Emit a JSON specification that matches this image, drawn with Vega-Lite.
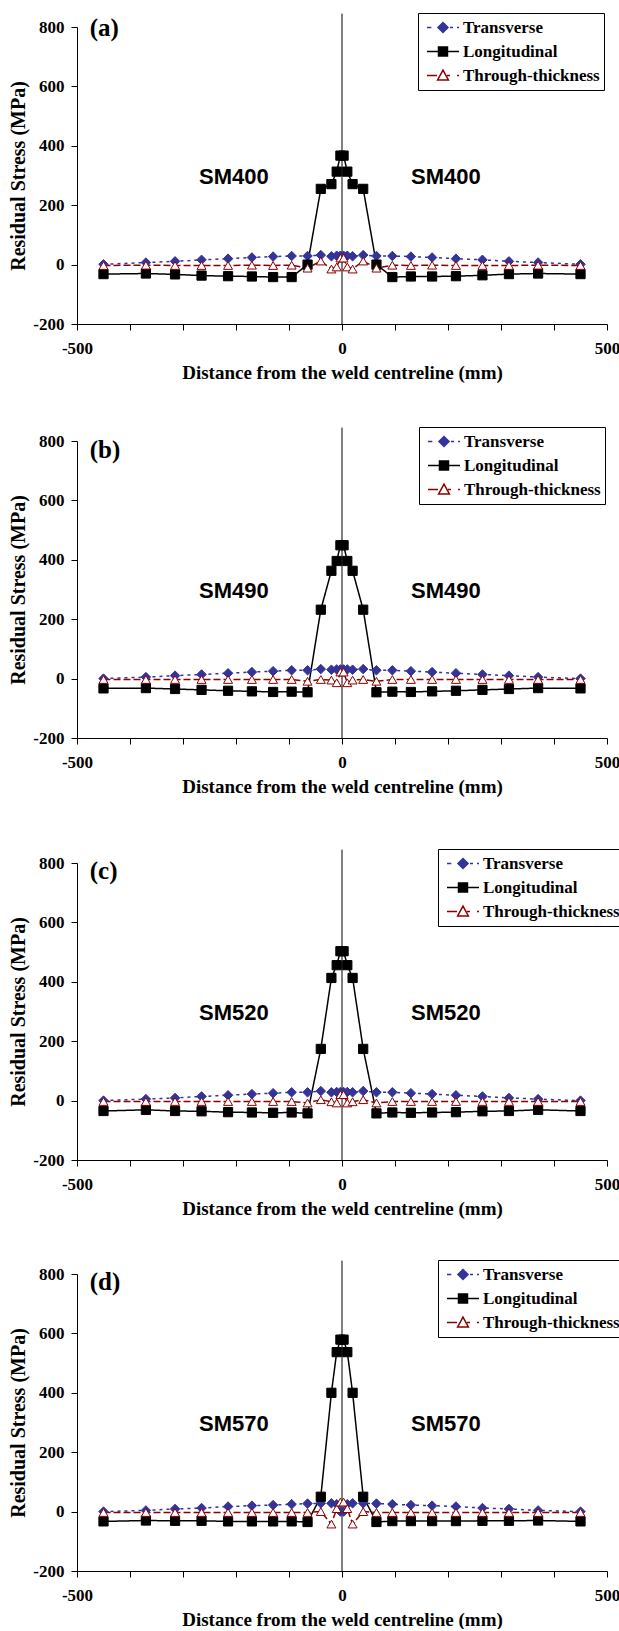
{
  "$schema": "https://vega.github.io/schema/vega-lite/v6.json",
  "background": "white",
  "padding": {"left": 8, "top": 12, "right": 0, "bottom": 0},
  "bounds": "flush",
  "spacing": 117,
  "datasets": {
    "a": [
      {"series":"Transverse","x":-450,"y":1},{"series":"Transverse","x":-370,"y":7},{"series":"Transverse","x":-315,"y":11},{"series":"Transverse","x":-265,"y":16},{"series":"Transverse","x":-215,"y":20},{"series":"Transverse","x":-170,"y":24},{"series":"Transverse","x":-130,"y":27},{"series":"Transverse","x":-95,"y":29},{"series":"Transverse","x":-65,"y":29},{"series":"Transverse","x":-40,"y":32},{"series":"Transverse","x":-20,"y":28},{"series":"Transverse","x":-10,"y":30},{"series":"Transverse","x":-3,"y":30},{"series":"Transverse","x":3,"y":30},{"series":"Transverse","x":10,"y":30},{"series":"Transverse","x":20,"y":28},{"series":"Transverse","x":40,"y":32},{"series":"Transverse","x":65,"y":29},{"series":"Transverse","x":95,"y":29},{"series":"Transverse","x":130,"y":27},{"series":"Transverse","x":170,"y":24},{"series":"Transverse","x":215,"y":20},{"series":"Transverse","x":265,"y":16},{"series":"Transverse","x":315,"y":11},{"series":"Transverse","x":370,"y":7},{"series":"Transverse","x":450,"y":1},
      {"series":"Longitudinal","x":-450,"y":-32},{"series":"Longitudinal","x":-370,"y":-30},{"series":"Longitudinal","x":-315,"y":-33},{"series":"Longitudinal","x":-265,"y":-37},{"series":"Longitudinal","x":-215,"y":-39},{"series":"Longitudinal","x":-170,"y":-40},{"series":"Longitudinal","x":-130,"y":-42},{"series":"Longitudinal","x":-95,"y":-42},{"series":"Longitudinal","x":-65,"y":0},{"series":"Longitudinal","x":-40,"y":255},{"series":"Longitudinal","x":-20,"y":271},{"series":"Longitudinal","x":-10,"y":313},{"series":"Longitudinal","x":-3,"y":367},{"series":"Longitudinal","x":3,"y":367},{"series":"Longitudinal","x":10,"y":313},{"series":"Longitudinal","x":20,"y":271},{"series":"Longitudinal","x":40,"y":255},{"series":"Longitudinal","x":65,"y":0},{"series":"Longitudinal","x":95,"y":-42},{"series":"Longitudinal","x":130,"y":-40},{"series":"Longitudinal","x":170,"y":-40},{"series":"Longitudinal","x":215,"y":-39},{"series":"Longitudinal","x":265,"y":-36},{"series":"Longitudinal","x":315,"y":-32},{"series":"Longitudinal","x":370,"y":-30},{"series":"Longitudinal","x":450,"y":-32},
      {"series":"Through-thickness","x":-450,"y":-3},{"series":"Through-thickness","x":-370,"y":-2},{"series":"Through-thickness","x":-315,"y":-3},{"series":"Through-thickness","x":-265,"y":-3},{"series":"Through-thickness","x":-215,"y":-3},{"series":"Through-thickness","x":-170,"y":-2},{"series":"Through-thickness","x":-130,"y":-3},{"series":"Through-thickness","x":-95,"y":-2},{"series":"Through-thickness","x":-65,"y":-12},{"series":"Through-thickness","x":-40,"y":12},{"series":"Through-thickness","x":-20,"y":-15},{"series":"Through-thickness","x":-10,"y":-8},{"series":"Through-thickness","x":-3,"y":22},{"series":"Through-thickness","x":3,"y":22},{"series":"Through-thickness","x":10,"y":-8},{"series":"Through-thickness","x":20,"y":-15},{"series":"Through-thickness","x":40,"y":12},{"series":"Through-thickness","x":65,"y":-12},{"series":"Through-thickness","x":95,"y":-2},{"series":"Through-thickness","x":130,"y":-3},{"series":"Through-thickness","x":170,"y":-2},{"series":"Through-thickness","x":215,"y":-3},{"series":"Through-thickness","x":265,"y":-3},{"series":"Through-thickness","x":315,"y":-3},{"series":"Through-thickness","x":370,"y":-2},{"series":"Through-thickness","x":450,"y":-3}
    ],
    "b": [
      {"series":"Transverse","x":-450,"y":0},{"series":"Transverse","x":-370,"y":5},{"series":"Transverse","x":-315,"y":10},{"series":"Transverse","x":-265,"y":14},{"series":"Transverse","x":-215,"y":18},{"series":"Transverse","x":-170,"y":22},{"series":"Transverse","x":-130,"y":25},{"series":"Transverse","x":-95,"y":28},{"series":"Transverse","x":-65,"y":28},{"series":"Transverse","x":-40,"y":32},{"series":"Transverse","x":-20,"y":30},{"series":"Transverse","x":-10,"y":31},{"series":"Transverse","x":-3,"y":31},{"series":"Transverse","x":3,"y":31},{"series":"Transverse","x":10,"y":31},{"series":"Transverse","x":20,"y":30},{"series":"Transverse","x":40,"y":32},{"series":"Transverse","x":65,"y":28},{"series":"Transverse","x":95,"y":28},{"series":"Transverse","x":130,"y":25},{"series":"Transverse","x":170,"y":22},{"series":"Transverse","x":215,"y":18},{"series":"Transverse","x":265,"y":14},{"series":"Transverse","x":315,"y":10},{"series":"Transverse","x":370,"y":5},{"series":"Transverse","x":450,"y":0},
      {"series":"Longitudinal","x":-450,"y":-33},{"series":"Longitudinal","x":-370,"y":-32},{"series":"Longitudinal","x":-315,"y":-35},{"series":"Longitudinal","x":-265,"y":-38},{"series":"Longitudinal","x":-215,"y":-41},{"series":"Longitudinal","x":-170,"y":-43},{"series":"Longitudinal","x":-130,"y":-45},{"series":"Longitudinal","x":-95,"y":-44},{"series":"Longitudinal","x":-65,"y":-46},{"series":"Longitudinal","x":-40,"y":232},{"series":"Longitudinal","x":-20,"y":363},{"series":"Longitudinal","x":-10,"y":396},{"series":"Longitudinal","x":-3,"y":449},{"series":"Longitudinal","x":3,"y":449},{"series":"Longitudinal","x":10,"y":396},{"series":"Longitudinal","x":20,"y":363},{"series":"Longitudinal","x":40,"y":232},{"series":"Longitudinal","x":65,"y":-46},{"series":"Longitudinal","x":95,"y":-44},{"series":"Longitudinal","x":130,"y":-45},{"series":"Longitudinal","x":170,"y":-43},{"series":"Longitudinal","x":215,"y":-41},{"series":"Longitudinal","x":265,"y":-38},{"series":"Longitudinal","x":315,"y":-35},{"series":"Longitudinal","x":370,"y":-32},{"series":"Longitudinal","x":450,"y":-33},
      {"series":"Through-thickness","x":-450,"y":-3},{"series":"Through-thickness","x":-370,"y":-3},{"series":"Through-thickness","x":-315,"y":-3},{"series":"Through-thickness","x":-265,"y":-3},{"series":"Through-thickness","x":-215,"y":-3},{"series":"Through-thickness","x":-170,"y":-3},{"series":"Through-thickness","x":-130,"y":-3},{"series":"Through-thickness","x":-95,"y":-3},{"series":"Through-thickness","x":-65,"y":-9},{"series":"Through-thickness","x":-40,"y":-3},{"series":"Through-thickness","x":-20,"y":-5},{"series":"Through-thickness","x":-10,"y":-14},{"series":"Through-thickness","x":-3,"y":22},{"series":"Through-thickness","x":3,"y":22},{"series":"Through-thickness","x":10,"y":-14},{"series":"Through-thickness","x":20,"y":-5},{"series":"Through-thickness","x":40,"y":-3},{"series":"Through-thickness","x":65,"y":-9},{"series":"Through-thickness","x":95,"y":-3},{"series":"Through-thickness","x":130,"y":-3},{"series":"Through-thickness","x":170,"y":-3},{"series":"Through-thickness","x":215,"y":-3},{"series":"Through-thickness","x":265,"y":-3},{"series":"Through-thickness","x":315,"y":-3},{"series":"Through-thickness","x":370,"y":-3},{"series":"Through-thickness","x":450,"y":-3}
    ],
    "c": [
      {"series":"Transverse","x":-450,"y":0},{"series":"Transverse","x":-370,"y":5},{"series":"Transverse","x":-315,"y":9},{"series":"Transverse","x":-265,"y":14},{"series":"Transverse","x":-215,"y":18},{"series":"Transverse","x":-170,"y":22},{"series":"Transverse","x":-130,"y":25},{"series":"Transverse","x":-95,"y":28},{"series":"Transverse","x":-65,"y":28},{"series":"Transverse","x":-40,"y":32},{"series":"Transverse","x":-20,"y":28},{"series":"Transverse","x":-10,"y":29},{"series":"Transverse","x":-3,"y":29},{"series":"Transverse","x":3,"y":29},{"series":"Transverse","x":10,"y":29},{"series":"Transverse","x":20,"y":28},{"series":"Transverse","x":40,"y":32},{"series":"Transverse","x":65,"y":28},{"series":"Transverse","x":95,"y":28},{"series":"Transverse","x":130,"y":25},{"series":"Transverse","x":170,"y":22},{"series":"Transverse","x":215,"y":18},{"series":"Transverse","x":265,"y":14},{"series":"Transverse","x":315,"y":9},{"series":"Transverse","x":370,"y":5},{"series":"Transverse","x":450,"y":0},
      {"series":"Longitudinal","x":-450,"y":-35},{"series":"Longitudinal","x":-370,"y":-31},{"series":"Longitudinal","x":-315,"y":-35},{"series":"Longitudinal","x":-265,"y":-36},{"series":"Longitudinal","x":-215,"y":-39},{"series":"Longitudinal","x":-170,"y":-40},{"series":"Longitudinal","x":-130,"y":-41},{"series":"Longitudinal","x":-95,"y":-40},{"series":"Longitudinal","x":-65,"y":-43},{"series":"Longitudinal","x":-40,"y":174},{"series":"Longitudinal","x":-20,"y":413},{"series":"Longitudinal","x":-10,"y":456},{"series":"Longitudinal","x":-3,"y":503},{"series":"Longitudinal","x":3,"y":503},{"series":"Longitudinal","x":10,"y":456},{"series":"Longitudinal","x":20,"y":413},{"series":"Longitudinal","x":40,"y":174},{"series":"Longitudinal","x":65,"y":-43},{"series":"Longitudinal","x":95,"y":-40},{"series":"Longitudinal","x":130,"y":-41},{"series":"Longitudinal","x":170,"y":-40},{"series":"Longitudinal","x":215,"y":-39},{"series":"Longitudinal","x":265,"y":-36},{"series":"Longitudinal","x":315,"y":-35},{"series":"Longitudinal","x":370,"y":-31},{"series":"Longitudinal","x":450,"y":-35},
      {"series":"Through-thickness","x":-450,"y":-3},{"series":"Through-thickness","x":-370,"y":-3},{"series":"Through-thickness","x":-315,"y":-3},{"series":"Through-thickness","x":-265,"y":-3},{"series":"Through-thickness","x":-215,"y":-3},{"series":"Through-thickness","x":-170,"y":-3},{"series":"Through-thickness","x":-130,"y":-3},{"series":"Through-thickness","x":-95,"y":-3},{"series":"Through-thickness","x":-65,"y":-8},{"series":"Through-thickness","x":-40,"y":3},{"series":"Through-thickness","x":-20,"y":-4},{"series":"Through-thickness","x":-10,"y":-8},{"series":"Through-thickness","x":-3,"y":20},{"series":"Through-thickness","x":3,"y":20},{"series":"Through-thickness","x":10,"y":-8},{"series":"Through-thickness","x":20,"y":-4},{"series":"Through-thickness","x":40,"y":3},{"series":"Through-thickness","x":65,"y":-8},{"series":"Through-thickness","x":95,"y":-3},{"series":"Through-thickness","x":130,"y":-3},{"series":"Through-thickness","x":170,"y":-3},{"series":"Through-thickness","x":215,"y":-3},{"series":"Through-thickness","x":265,"y":-3},{"series":"Through-thickness","x":315,"y":-3},{"series":"Through-thickness","x":370,"y":-3},{"series":"Through-thickness","x":450,"y":-3}
    ],
    "d": [
      {"series":"Transverse","x":-450,"y":0},{"series":"Transverse","x":-370,"y":4},{"series":"Transverse","x":-315,"y":9},{"series":"Transverse","x":-265,"y":12},{"series":"Transverse","x":-215,"y":17},{"series":"Transverse","x":-170,"y":20},{"series":"Transverse","x":-130,"y":22},{"series":"Transverse","x":-95,"y":25},{"series":"Transverse","x":-65,"y":27},{"series":"Transverse","x":-40,"y":28},{"series":"Transverse","x":-20,"y":28},{"series":"Transverse","x":-10,"y":25},{"series":"Transverse","x":-3,"y":0},{"series":"Transverse","x":3,"y":0},{"series":"Transverse","x":10,"y":25},{"series":"Transverse","x":20,"y":28},{"series":"Transverse","x":40,"y":28},{"series":"Transverse","x":65,"y":27},{"series":"Transverse","x":95,"y":25},{"series":"Transverse","x":130,"y":22},{"series":"Transverse","x":170,"y":20},{"series":"Transverse","x":215,"y":17},{"series":"Transverse","x":265,"y":12},{"series":"Transverse","x":315,"y":9},{"series":"Transverse","x":370,"y":4},{"series":"Transverse","x":450,"y":0},
      {"series":"Longitudinal","x":-450,"y":-33},{"series":"Longitudinal","x":-370,"y":-30},{"series":"Longitudinal","x":-315,"y":-31},{"series":"Longitudinal","x":-265,"y":-31},{"series":"Longitudinal","x":-215,"y":-33},{"series":"Longitudinal","x":-170,"y":-33},{"series":"Longitudinal","x":-130,"y":-33},{"series":"Longitudinal","x":-95,"y":-33},{"series":"Longitudinal","x":-65,"y":-35},{"series":"Longitudinal","x":-40,"y":50},{"series":"Longitudinal","x":-20,"y":400},{"series":"Longitudinal","x":-10,"y":537},{"series":"Longitudinal","x":-3,"y":579},{"series":"Longitudinal","x":3,"y":579},{"series":"Longitudinal","x":10,"y":537},{"series":"Longitudinal","x":20,"y":400},{"series":"Longitudinal","x":40,"y":50},{"series":"Longitudinal","x":65,"y":-35},{"series":"Longitudinal","x":95,"y":-32},{"series":"Longitudinal","x":130,"y":-32},{"series":"Longitudinal","x":170,"y":-32},{"series":"Longitudinal","x":215,"y":-32},{"series":"Longitudinal","x":265,"y":-31},{"series":"Longitudinal","x":315,"y":-31},{"series":"Longitudinal","x":370,"y":-30},{"series":"Longitudinal","x":450,"y":-33},
      {"series":"Through-thickness","x":-450,"y":-3},{"series":"Through-thickness","x":-370,"y":-3},{"series":"Through-thickness","x":-315,"y":-3},{"series":"Through-thickness","x":-265,"y":-3},{"series":"Through-thickness","x":-215,"y":-3},{"series":"Through-thickness","x":-170,"y":-3},{"series":"Through-thickness","x":-130,"y":-3},{"series":"Through-thickness","x":-95,"y":-3},{"series":"Through-thickness","x":-65,"y":-3},{"series":"Through-thickness","x":-40,"y":0},{"series":"Through-thickness","x":-20,"y":-42},{"series":"Through-thickness","x":-10,"y":10},{"series":"Through-thickness","x":-3,"y":32},{"series":"Through-thickness","x":3,"y":32},{"series":"Through-thickness","x":10,"y":10},{"series":"Through-thickness","x":20,"y":-42},{"series":"Through-thickness","x":40,"y":0},{"series":"Through-thickness","x":65,"y":-3},{"series":"Through-thickness","x":95,"y":-3},{"series":"Through-thickness","x":130,"y":-3},{"series":"Through-thickness","x":170,"y":-3},{"series":"Through-thickness","x":215,"y":-3},{"series":"Through-thickness","x":265,"y":-3},{"series":"Through-thickness","x":315,"y":-3},{"series":"Through-thickness","x":370,"y":-3},{"series":"Through-thickness","x":450,"y":-3}
    ]
  },
  "vconcat": [
    {
      "width": 530, "height": 297,
      "layer": [
        {"data": {"values": [{}]}, "mark": {"type": "rule", "color": "black", "strokeWidth": 1},
         "encoding": {"x": {"datum": 0, "type": "quantitative"}, "y": {"datum": -200, "type": "quantitative"}, "y2": {"datum": 845}}},
        {"data": {"name": "a"}, "mark": {"type": "line", "strokeWidth": 1.5},
         "encoding": {
           "x": {"field": "x", "type": "quantitative", "scale": {"domain": [-500, 500], "nice": false, "zero": false},
                 "axis": {"title": "Distance from the weld centreline (mm)", "values": [-500,-450,-400,-350,-300,-250,-200,-150,-100,-50,0,50,100,150,200,250,300,350,400,450,500], "labelExpr": "datum.value % 250 === 0 ? '' + datum.value : ''", "labelFlush": false, "labelOverlap": false}},
           "y": {"field": "y", "type": "quantitative", "scale": {"domain": [-200, 800], "nice": false, "zero": false},
                 "axis": {"title": "Residual Stress (MPa)", "values": [-200,-150,-100,-50,0,50,100,150,200,250,300,350,400,450,500,550,600,650,700,750,800], "labelExpr": "datum.value % 200 === 0 ? '' + datum.value : ''", "labelOverlap": false, "labelFlush": false}},
           "stroke": {"field": "series", "type": "nominal", "legend": null, "scale": {"domain": ["Transverse", "Longitudinal", "Through-thickness"], "range": ["#333399", "#000000", "#8B0000"]}},
           "strokeDash": {"field": "series", "type": "nominal", "legend": null, "scale": {"domain": ["Transverse", "Longitudinal", "Through-thickness"], "range": [[3, 4], [1, 0], [7, 3]]}}
         }},
        {"data": {"name": "a"}, "mark": {"type": "point", "opacity": 1, "strokeWidth": 1},
         "encoding": {
           "x": {"field": "x", "type": "quantitative"}, "y": {"field": "y", "type": "quantitative"},
           "shape": {"field": "series", "type": "nominal", "legend": null, "scale": {"domain": ["Transverse", "Longitudinal", "Through-thickness"], "range": ["diamond", "square", "triangle-up"]}},
           "size": {"field": "series", "type": "nominal", "legend": null, "scale": {"domain": ["Transverse", "Longitudinal", "Through-thickness"], "range": [90, 80, 70]}},
           "stroke": {"field": "series", "type": "nominal", "legend": null, "scale": {"domain": ["Transverse", "Longitudinal", "Through-thickness"], "range": ["#333399", "#000000", "#8B0000"]}},
           "fill": {"field": "series", "type": "nominal", "legend": null, "scale": {"domain": ["Transverse", "Longitudinal", "Through-thickness"], "range": ["#333399", "#000000", "#ffffff"]}}
         }},
        {"data": {"name": "a"}, "transform": [{"filter": "datum.x > 99999"}], "mark": {"type": "point", "opacity": 1, "strokeWidth": 1.5, "filled": true},
         "encoding": {
           "x": {"field": "x", "type": "quantitative"}, "y": {"field": "y", "type": "quantitative"},
           "shape": {"field": "series", "type": "nominal", "legend": {"orient": "none", "legendX": 341, "legendY": -14, "title": null}, "scale": {"domain": ["Transverse", "Longitudinal", "Through-thickness"], "range": ["M-0.778,0H-0.539M0.111,-0.28L0.391,0L0.111,0.28L-0.169,0ZM0.5,0H0.667M0.889,0H1", "M-0.778,0H1M-0.139,-0.25H0.361V0.25H-0.139Z", "M-0.778,0H-0.222M0.111,-0.3L0.41,0.25H-0.188ZM0.333,0H0.5M0.889,0H1"]}},
           "stroke": {"field": "series", "type": "nominal", "legend": {"orient": "none", "legendX": 341, "legendY": -14, "title": null}, "scale": {"domain": ["Transverse", "Longitudinal", "Through-thickness"], "range": ["#333399", "#000000", "#8B0000"]}},
           "fill": {"field": "series", "type": "nominal", "legend": {"orient": "none", "legendX": 341, "legendY": -14, "title": null}, "scale": {"domain": ["Transverse", "Longitudinal", "Through-thickness"], "range": ["#333399", "#000000", "#ffffff"]}}
         }},
        {"data": {"values": [{}]}, "mark": {"type": "text", "font": "Liberation Serif", "fontWeight": "bold", "fontSize": 25, "align": "left", "baseline": "middle"},
         "encoding": {"x": {"datum": -476, "type": "quantitative"}, "y": {"datum": 796, "type": "quantitative"}, "text": {"value": "(a)"}}},
        {"data": {"values": [{}]}, "mark": {"type": "text", "font": "Liberation Sans", "fontWeight": "bold", "fontSize": 22, "align": "center", "baseline": "middle"},
         "encoding": {"x": {"datum": -204, "type": "quantitative"}, "y": {"datum": 296, "type": "quantitative"}, "text": {"value": "SM400"}}},
        {"data": {"values": [{}]}, "mark": {"type": "text", "font": "Liberation Sans", "fontWeight": "bold", "fontSize": 22, "align": "center", "baseline": "middle"},
         "encoding": {"x": {"datum": 196, "type": "quantitative"}, "y": {"datum": 296, "type": "quantitative"}, "text": {"value": "SM400"}}}
      ],
      "resolve": {"scale": {"shape": "independent", "stroke": "independent", "fill": "independent"}}
    },
    {
      "bounds": "flush",
      "spacing": 125,
      "resolve": {"scale": {"shape": "independent", "stroke": "independent", "fill": "independent", "strokeDash": "independent", "size": "independent", "x": "independent", "y": "independent"}},
      "vconcat": [
        {
          "width": 530, "height": 297,
          "layer": [
            {"data": {"values": [{}]}, "mark": {"type": "rule", "color": "black", "strokeWidth": 1},
             "encoding": {"x": {"datum": 0, "type": "quantitative"}, "y": {"datum": -200, "type": "quantitative"}, "y2": {"datum": 845}}},
            {"data": {"name": "b"}, "mark": {"type": "line", "strokeWidth": 1.5},
             "encoding": {
               "x": {"field": "x", "type": "quantitative", "scale": {"domain": [-500, 500], "nice": false, "zero": false},
                     "axis": {"title": "Distance from the weld centreline (mm)", "values": [-500,-450,-400,-350,-300,-250,-200,-150,-100,-50,0,50,100,150,200,250,300,350,400,450,500], "labelExpr": "datum.value % 250 === 0 ? '' + datum.value : ''", "labelFlush": false, "labelOverlap": false}},
               "y": {"field": "y", "type": "quantitative", "scale": {"domain": [-200, 800], "nice": false, "zero": false},
                     "axis": {"title": "Residual Stress (MPa)", "values": [-200,-150,-100,-50,0,50,100,150,200,250,300,350,400,450,500,550,600,650,700,750,800], "labelExpr": "datum.value % 200 === 0 ? '' + datum.value : ''", "labelOverlap": false, "labelFlush": false}},
               "stroke": {"field": "series", "type": "nominal", "legend": null, "scale": {"domain": ["Transverse", "Longitudinal", "Through-thickness"], "range": ["#333399", "#000000", "#8B0000"]}},
               "strokeDash": {"field": "series", "type": "nominal", "legend": null, "scale": {"domain": ["Transverse", "Longitudinal", "Through-thickness"], "range": [[3, 4], [1, 0], [7, 3]]}}
             }},
            {"data": {"name": "b"}, "mark": {"type": "point", "opacity": 1, "strokeWidth": 1},
             "encoding": {
               "x": {"field": "x", "type": "quantitative"}, "y": {"field": "y", "type": "quantitative"},
               "shape": {"field": "series", "type": "nominal", "legend": null, "scale": {"domain": ["Transverse", "Longitudinal", "Through-thickness"], "range": ["diamond", "square", "triangle-up"]}},
               "size": {"field": "series", "type": "nominal", "legend": null, "scale": {"domain": ["Transverse", "Longitudinal", "Through-thickness"], "range": [90, 80, 70]}},
               "stroke": {"field": "series", "type": "nominal", "legend": null, "scale": {"domain": ["Transverse", "Longitudinal", "Through-thickness"], "range": ["#333399", "#000000", "#8B0000"]}},
               "fill": {"field": "series", "type": "nominal", "legend": null, "scale": {"domain": ["Transverse", "Longitudinal", "Through-thickness"], "range": ["#333399", "#000000", "#ffffff"]}}
             }},
            {"data": {"name": "b"}, "transform": [{"filter": "datum.x > 99999"}], "mark": {"type": "point", "opacity": 1, "strokeWidth": 1.5, "filled": true},
             "encoding": {
               "x": {"field": "x", "type": "quantitative"}, "y": {"field": "y", "type": "quantitative"},
               "shape": {"field": "series", "type": "nominal", "legend": {"orient": "none", "legendX": 342, "legendY": -14, "title": null}, "scale": {"domain": ["Transverse", "Longitudinal", "Through-thickness"], "range": ["M-0.778,0H-0.539M0.111,-0.28L0.391,0L0.111,0.28L-0.169,0ZM0.5,0H0.667M0.889,0H1", "M-0.778,0H1M-0.139,-0.25H0.361V0.25H-0.139Z", "M-0.778,0H-0.222M0.111,-0.3L0.41,0.25H-0.188ZM0.333,0H0.5M0.889,0H1"]}},
               "stroke": {"field": "series", "type": "nominal", "legend": {"orient": "none", "legendX": 342, "legendY": -14, "title": null}, "scale": {"domain": ["Transverse", "Longitudinal", "Through-thickness"], "range": ["#333399", "#000000", "#8B0000"]}},
               "fill": {"field": "series", "type": "nominal", "legend": {"orient": "none", "legendX": 342, "legendY": -14, "title": null}, "scale": {"domain": ["Transverse", "Longitudinal", "Through-thickness"], "range": ["#333399", "#000000", "#ffffff"]}}
             }},
            {"data": {"values": [{}]}, "mark": {"type": "text", "font": "Liberation Serif", "fontWeight": "bold", "fontSize": 25, "align": "left", "baseline": "middle"},
             "encoding": {"x": {"datum": -476, "type": "quantitative"}, "y": {"datum": 770, "type": "quantitative"}, "text": {"value": "(b)"}}},
            {"data": {"values": [{}]}, "mark": {"type": "text", "font": "Liberation Sans", "fontWeight": "bold", "fontSize": 22, "align": "center", "baseline": "middle"},
             "encoding": {"x": {"datum": -204, "type": "quantitative"}, "y": {"datum": 296, "type": "quantitative"}, "text": {"value": "SM490"}}},
            {"data": {"values": [{}]}, "mark": {"type": "text", "font": "Liberation Sans", "fontWeight": "bold", "fontSize": 22, "align": "center", "baseline": "middle"},
             "encoding": {"x": {"datum": 196, "type": "quantitative"}, "y": {"datum": 296, "type": "quantitative"}, "text": {"value": "SM490"}}}
          ],
          "resolve": {"scale": {"shape": "independent", "stroke": "independent", "fill": "independent"}}
        },
        {
          "bounds": "flush",
          "spacing": 114,
          "resolve": {"scale": {"shape": "independent", "stroke": "independent", "fill": "independent", "strokeDash": "independent", "size": "independent", "x": "independent", "y": "independent"}},
          "vconcat": [
            {
              "width": 530, "height": 297,
              "layer": [
                {"data": {"values": [{}]}, "mark": {"type": "rule", "color": "black", "strokeWidth": 1},
                 "encoding": {"x": {"datum": 0, "type": "quantitative"}, "y": {"datum": -200, "type": "quantitative"}, "y2": {"datum": 845}}},
                {"data": {"name": "c"}, "mark": {"type": "line", "strokeWidth": 1.5},
                 "encoding": {
                   "x": {"field": "x", "type": "quantitative", "scale": {"domain": [-500, 500], "nice": false, "zero": false},
                         "axis": {"title": "Distance from the weld centreline (mm)", "values": [-500,-450,-400,-350,-300,-250,-200,-150,-100,-50,0,50,100,150,200,250,300,350,400,450,500], "labelExpr": "datum.value % 250 === 0 ? '' + datum.value : ''", "labelFlush": false, "labelOverlap": false}},
                   "y": {"field": "y", "type": "quantitative", "scale": {"domain": [-200, 800], "nice": false, "zero": false},
                         "axis": {"title": "Residual Stress (MPa)", "values": [-200,-150,-100,-50,0,50,100,150,200,250,300,350,400,450,500,550,600,650,700,750,800], "labelExpr": "datum.value % 200 === 0 ? '' + datum.value : ''", "labelOverlap": false, "labelFlush": false}},
                   "stroke": {"field": "series", "type": "nominal", "legend": null, "scale": {"domain": ["Transverse", "Longitudinal", "Through-thickness"], "range": ["#333399", "#000000", "#8B0000"]}},
                   "strokeDash": {"field": "series", "type": "nominal", "legend": null, "scale": {"domain": ["Transverse", "Longitudinal", "Through-thickness"], "range": [[3, 4], [1, 0], [7, 3]]}}
                 }},
                {"data": {"name": "c"}, "mark": {"type": "point", "opacity": 1, "strokeWidth": 1},
                 "encoding": {
                   "x": {"field": "x", "type": "quantitative"}, "y": {"field": "y", "type": "quantitative"},
                   "shape": {"field": "series", "type": "nominal", "legend": null, "scale": {"domain": ["Transverse", "Longitudinal", "Through-thickness"], "range": ["diamond", "square", "triangle-up"]}},
                   "size": {"field": "series", "type": "nominal", "legend": null, "scale": {"domain": ["Transverse", "Longitudinal", "Through-thickness"], "range": [90, 80, 70]}},
                   "stroke": {"field": "series", "type": "nominal", "legend": null, "scale": {"domain": ["Transverse", "Longitudinal", "Through-thickness"], "range": ["#333399", "#000000", "#8B0000"]}},
                   "fill": {"field": "series", "type": "nominal", "legend": null, "scale": {"domain": ["Transverse", "Longitudinal", "Through-thickness"], "range": ["#333399", "#000000", "#ffffff"]}}
                 }},
                {"data": {"name": "c"}, "transform": [{"filter": "datum.x > 99999"}], "mark": {"type": "point", "opacity": 1, "strokeWidth": 1.5, "filled": true},
                 "encoding": {
                   "x": {"field": "x", "type": "quantitative"}, "y": {"field": "y", "type": "quantitative"},
                   "shape": {"field": "series", "type": "nominal", "legend": {"orient": "none", "legendX": 361, "legendY": -14, "title": null}, "scale": {"domain": ["Transverse", "Longitudinal", "Through-thickness"], "range": ["M-0.778,0H-0.539M0.111,-0.28L0.391,0L0.111,0.28L-0.169,0ZM0.5,0H0.667M0.889,0H1", "M-0.778,0H1M-0.139,-0.25H0.361V0.25H-0.139Z", "M-0.778,0H-0.222M0.111,-0.3L0.41,0.25H-0.188ZM0.333,0H0.5M0.889,0H1"]}},
                   "stroke": {"field": "series", "type": "nominal", "legend": {"orient": "none", "legendX": 361, "legendY": -14, "title": null}, "scale": {"domain": ["Transverse", "Longitudinal", "Through-thickness"], "range": ["#333399", "#000000", "#8B0000"]}},
                   "fill": {"field": "series", "type": "nominal", "legend": {"orient": "none", "legendX": 361, "legendY": -14, "title": null}, "scale": {"domain": ["Transverse", "Longitudinal", "Through-thickness"], "range": ["#333399", "#000000", "#ffffff"]}}
                 }},
                {"data": {"values": [{}]}, "mark": {"type": "text", "font": "Liberation Serif", "fontWeight": "bold", "fontSize": 25, "align": "left", "baseline": "middle"},
                 "encoding": {"x": {"datum": -476, "type": "quantitative"}, "y": {"datum": 772, "type": "quantitative"}, "text": {"value": "(c)"}}},
                {"data": {"values": [{}]}, "mark": {"type": "text", "font": "Liberation Sans", "fontWeight": "bold", "fontSize": 22, "align": "center", "baseline": "middle"},
                 "encoding": {"x": {"datum": -204, "type": "quantitative"}, "y": {"datum": 296, "type": "quantitative"}, "text": {"value": "SM520"}}},
                {"data": {"values": [{}]}, "mark": {"type": "text", "font": "Liberation Sans", "fontWeight": "bold", "fontSize": 22, "align": "center", "baseline": "middle"},
                 "encoding": {"x": {"datum": 196, "type": "quantitative"}, "y": {"datum": 296, "type": "quantitative"}, "text": {"value": "SM520"}}}
              ],
              "resolve": {"scale": {"shape": "independent", "stroke": "independent", "fill": "independent"}}
            },
            {
              "width": 530, "height": 297,
              "layer": [
                {"data": {"values": [{}]}, "mark": {"type": "rule", "color": "black", "strokeWidth": 1},
                 "encoding": {"x": {"datum": 0, "type": "quantitative"}, "y": {"datum": -200, "type": "quantitative"}, "y2": {"datum": 845}}},
                {"data": {"name": "d"}, "mark": {"type": "line", "strokeWidth": 1.5},
                 "encoding": {
                   "x": {"field": "x", "type": "quantitative", "scale": {"domain": [-500, 500], "nice": false, "zero": false},
                         "axis": {"title": "Distance from the weld centreline (mm)", "values": [-500,-450,-400,-350,-300,-250,-200,-150,-100,-50,0,50,100,150,200,250,300,350,400,450,500], "labelExpr": "datum.value % 250 === 0 ? '' + datum.value : ''", "labelFlush": false, "labelOverlap": false}},
                   "y": {"field": "y", "type": "quantitative", "scale": {"domain": [-200, 800], "nice": false, "zero": false},
                         "axis": {"title": "Residual Stress (MPa)", "values": [-200,-150,-100,-50,0,50,100,150,200,250,300,350,400,450,500,550,600,650,700,750,800], "labelExpr": "datum.value % 200 === 0 ? '' + datum.value : ''", "labelOverlap": false, "labelFlush": false}},
                   "stroke": {"field": "series", "type": "nominal", "legend": null, "scale": {"domain": ["Transverse", "Longitudinal", "Through-thickness"], "range": ["#333399", "#000000", "#8B0000"]}},
                   "strokeDash": {"field": "series", "type": "nominal", "legend": null, "scale": {"domain": ["Transverse", "Longitudinal", "Through-thickness"], "range": [[3, 4], [1, 0], [7, 3]]}}
                 }},
                {"data": {"name": "d"}, "mark": {"type": "point", "opacity": 1, "strokeWidth": 1},
                 "encoding": {
                   "x": {"field": "x", "type": "quantitative"}, "y": {"field": "y", "type": "quantitative"},
                   "shape": {"field": "series", "type": "nominal", "legend": null, "scale": {"domain": ["Transverse", "Longitudinal", "Through-thickness"], "range": ["diamond", "square", "triangle-up"]}},
                   "size": {"field": "series", "type": "nominal", "legend": null, "scale": {"domain": ["Transverse", "Longitudinal", "Through-thickness"], "range": [90, 80, 70]}},
                   "stroke": {"field": "series", "type": "nominal", "legend": null, "scale": {"domain": ["Transverse", "Longitudinal", "Through-thickness"], "range": ["#333399", "#000000", "#8B0000"]}},
                   "fill": {"field": "series", "type": "nominal", "legend": null, "scale": {"domain": ["Transverse", "Longitudinal", "Through-thickness"], "range": ["#333399", "#000000", "#ffffff"]}}
                 }},
                {"data": {"name": "d"}, "transform": [{"filter": "datum.x > 99999"}], "mark": {"type": "point", "opacity": 1, "strokeWidth": 1.5, "filled": true},
                 "encoding": {
                   "x": {"field": "x", "type": "quantitative"}, "y": {"field": "y", "type": "quantitative"},
                   "shape": {"field": "series", "type": "nominal", "legend": {"orient": "none", "legendX": 361, "legendY": -14, "title": null}, "scale": {"domain": ["Transverse", "Longitudinal", "Through-thickness"], "range": ["M-0.778,0H-0.539M0.111,-0.28L0.391,0L0.111,0.28L-0.169,0ZM0.5,0H0.667M0.889,0H1", "M-0.778,0H1M-0.139,-0.25H0.361V0.25H-0.139Z", "M-0.778,0H-0.222M0.111,-0.3L0.41,0.25H-0.188ZM0.333,0H0.5M0.889,0H1"]}},
                   "stroke": {"field": "series", "type": "nominal", "legend": {"orient": "none", "legendX": 361, "legendY": -14, "title": null}, "scale": {"domain": ["Transverse", "Longitudinal", "Through-thickness"], "range": ["#333399", "#000000", "#8B0000"]}},
                   "fill": {"field": "series", "type": "nominal", "legend": {"orient": "none", "legendX": 361, "legendY": -14, "title": null}, "scale": {"domain": ["Transverse", "Longitudinal", "Through-thickness"], "range": ["#333399", "#000000", "#ffffff"]}}
                 }},
                {"data": {"values": [{}]}, "mark": {"type": "text", "font": "Liberation Serif", "fontWeight": "bold", "fontSize": 25, "align": "left", "baseline": "middle"},
                 "encoding": {"x": {"datum": -476, "type": "quantitative"}, "y": {"datum": 772, "type": "quantitative"}, "text": {"value": "(d)"}}},
                {"data": {"values": [{}]}, "mark": {"type": "text", "font": "Liberation Sans", "fontWeight": "bold", "fontSize": 22, "align": "center", "baseline": "middle"},
                 "encoding": {"x": {"datum": -204, "type": "quantitative"}, "y": {"datum": 296, "type": "quantitative"}, "text": {"value": "SM570"}}},
                {"data": {"values": [{}]}, "mark": {"type": "text", "font": "Liberation Sans", "fontWeight": "bold", "fontSize": 22, "align": "center", "baseline": "middle"},
                 "encoding": {"x": {"datum": 196, "type": "quantitative"}, "y": {"datum": 296, "type": "quantitative"}, "text": {"value": "SM570"}}}
              ],
              "resolve": {"scale": {"shape": "independent", "stroke": "independent", "fill": "independent"}}
            }
          ]
        }
      ]
    }
  ],
  "resolve": {"scale": {"shape": "independent", "stroke": "independent", "fill": "independent", "strokeDash": "independent", "size": "independent", "x": "independent", "y": "independent"}},
  "config": {
    "view": {"stroke": null},
    "axis": {
      "grid": false, "domainColor": "black", "domainWidth": 1, "tickColor": "black", "tickWidth": 1, "tickSize": 6,
      "labelFont": "Liberation Serif", "labelFontWeight": "bold", "labelFontSize": 17, "labelColor": "black",
      "titleFont": "Liberation Serif", "titleFontWeight": "bold", "titleColor": "black"
    },
    "axisX": {"labelPadding": 10, "titlePadding": 7, "titleFontSize": 19},
    "axisY": {"labelPadding": 7, "titlePadding": 4, "titleFontSize": 20},
    "legend": {
      "padding": 4, "strokeColor": "black", "fillColor": "white",
      "labelFont": "Liberation Serif", "labelFontWeight": "bold", "labelFontSize": 17, "labelColor": "black",
      "labelOffset": 3, "labelLimit": 400, "symbolSize": 1296, "clipHeight": 21, "rowPadding": 3,
      "symbolStrokeWidth": 1.5, "symbolOpacity": 1
    }
  }
}
